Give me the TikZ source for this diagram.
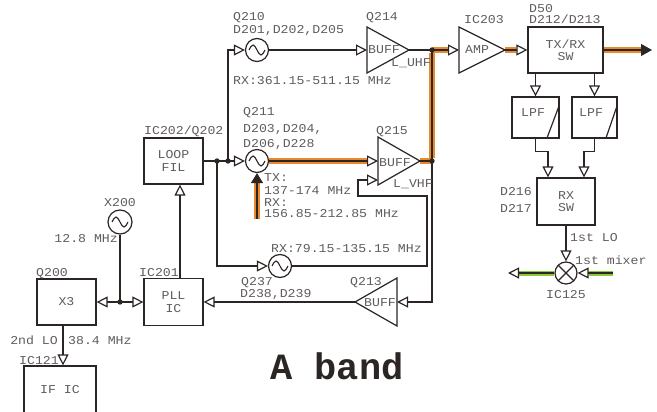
\documentclass[tikz,border=0pt]{standalone}
\usepackage{fontspec}
\newfontfamily\monof[FakeStretch=1.1]{Liberation Mono}
\newfontfamily\monob{Liberation Mono}
\usetikzlibrary{arrows.meta}
\definecolor{ln}{HTML}{2B2523}
\definecolor{tx}{HTML}{605C5D}
\definecolor{org}{HTML}{E8892B}
\definecolor{grn}{HTML}{8CC63F}
\newcommand\mymono{\monof\fontsize{12}{12.5}\selectfont}
\newcommand\bandfont{\monob\bfseries\fontsize{37}{40}\selectfont}
\newcommand\sinew[1]{\draw[ln,line width=1.1pt] ([xshift=-8pt]#1.center) sin ++(4,-5) cos ++(4,5) sin ++(4,5) cos ++(4,-5);}
\begin{document}
\begin{tikzpicture}[x=1pt,y=-1pt,
  wire/.style={draw=ln,line width=1.2pt},
  oa/.style={-{Triangle[open,length=11pt,width=11pt]}},
  fa/.style={-{Triangle[length=11pt,width=12pt]}},
  box/.style={draw=ln,line width=1.2pt,rectangle,inner sep=0,font=\mymono,text=tx,align=center},
  osc/.style={draw=ln,line width=1.2pt,circle,minimum size=23pt,inner sep=0},
  lbl/.style={anchor=base west,inner sep=0,text=tx,font=\mymono},
  lblr/.style={anchor=base east,inner sep=0,text=tx,font=\mymono},
  lblc/.style={anchor=base,inner sep=0,text=tx,font=\mymono},
  orangeband/.style={draw=org,line width=5.5pt},
  greenband/.style={draw=grn,line width=5pt}]
\useasboundingbox (0,0) rectangle (657,412);

% ---------- boxes ----------
\node[box,minimum width=59pt,minimum height=46pt] (loop) at (173.5,161) {LOOP\\FIL};
\node[box,minimum width=59pt,minimum height=47pt] (pll) at (173.5,302) {PLL\\IC};
\node[box,minimum width=59pt,minimum height=46pt] (x3) at (66.5,302) {X3};
\node[box,minimum width=72pt,minimum height=48pt] (ific) at (60,390) {IF IC};
\node[box,minimum width=75pt,minimum height=46pt] (txrx) at (565.5,50) {TX/RX\\SW};
\node[box,minimum width=47pt,minimum height=41pt] (lpf1) at (535.5,117.5) {};
\node[box,minimum width=45pt,minimum height=41pt] (lpf2) at (594.5,117.5) {};
\node[box,minimum width=58pt,minimum height=47pt] (rxsw) at (566,201.5) {RX\\SW};
\draw[wire] (559,106) -- (547,138);
\draw[wire] (617,106) -- (606,138);
\node[lbl] (tlpf1) at (521,117) {LPF};
\node[lbl] (tlpf2) at (579,117) {LPF};

% ---------- oscillators ----------
\node[osc] (q210) at (257,50) {};
\node[osc] (q211) at (257,161) {};
\node[osc] (q237) at (280,266) {};
\node[osc,minimum size=24pt] (x200) at (120,222) {};
\sinew{q210}\sinew{q211}\sinew{q237}\sinew{x200}

% mixer
\node[draw=ln,line width=1.2pt,circle,minimum size=22pt,inner sep=0] (mix) at (566,273) {};
\draw[wire] ([shift={(-7.8,-7.8)}]mix.center) -- ([shift={(7.8,7.8)}]mix.center);
\draw[wire] ([shift={(-7.8,7.8)}]mix.center) -- ([shift={(7.8,-7.8)}]mix.center);

% ---------- buffers / amp ----------
\draw[wire] (367,27) -- (409,50) -- (367,73) -- cycle;
\coordinate (b214in) at (367,50); \coordinate (b214out) at (409,50);
\draw[wire] (459,27) -- (505,50) -- (459,73) -- cycle;
\coordinate (ampin) at (459,50); \coordinate (ampout) at (505,50);
\draw[wire] (378,137) -- (420,161) -- (378,185) -- cycle;
\coordinate (b215ina) at (378,161); \coordinate (b215inb) at (378,180); \coordinate (b215out) at (420,161);
\draw[wire] (397,278) -- (355,302) -- (397,326) -- cycle;
\coordinate (b213in) at (397,302); \coordinate (b213out) at (355,302);

% ---------- junctions ----------
\coordinate (j1) at (432,50);
\coordinate (j2) at (432,161);
\coordinate (dA) at (217,161);
\coordinate (dB) at (228,161);
\coordinate (dC) at (120,302);
\coordinate (outend) at (652,50);
\coordinate (tunebot) at (257,219);
\coordinate (gR) at (613,273);
\coordinate (gL) at (508,273);

% ---------- orange / green bands ----------
\draw[orangeband,shorten >=11pt] (j1) -- (ampin);
\draw[orangeband] ([yshift=-2.75pt]j1) -- ([yshift=2.75pt]j2);
\draw[orangeband,shorten >=11pt] (ampout) -- (txrx.west);
\draw[orangeband,shorten >=11pt] (txrx.east) -- (outend);
\draw[orangeband,shorten >=11pt] (q211.east) -- (b215ina);
\draw[orangeband] (b215out) -- (j2);
\draw[orangeband,shorten >=10pt] (tunebot) -- (q211.south);
\draw[greenband,shorten >=11pt] (gR) -- (mix.east);
\draw[greenband,shorten >=11pt] (mix.west) -- (gL);

% ---------- wires ----------
\draw[wire,oa] (dB) |- (q210.west);
\draw[wire,oa] (q210.east) -- (b214in);
\draw[wire] (b214out) -- (j1);
\draw[wire,oa] (j1) -- (ampin);
\draw[wire] (j1) -- (j2);
\draw[wire,oa] (ampout) -- (txrx.west);
\draw[wire,fa] (txrx.east) -- (outend);
\draw[wire,oa] (q211.east) -- (b215ina);
\draw[wire] (b215out) -- (j2);
\draw[wire,-{Triangle[length=10pt,width=12pt]}] (tunebot) -- (q211.south);
\draw[wire,oa] (j2) |- (b213in);
\draw[wire,oa] (b213out) -- (pll.east);
\draw[wire,oa] ([xshift=6.5pt]pll.north) -- ([xshift=6.5pt]loop.south);
\draw[wire] (loop.east) -- (dA) -- (dB);
\draw[wire,oa] (dB) -- (q211.west);
\draw[wire,oa] (dA) |- (q237.west);
\draw[wire,oa] (q237.east) -- (427,266) -- (427,196) -- (358,196) -- (358,180) -- (b215inb);
\draw[wire] (x200.south) -- (dC);
\draw[wire,oa] (dC) -- (x3.east);
\draw[wire,oa] (dC) -- (pll.west);
\draw[wire,oa] ([xshift=-3.5pt]x3.south) -- ([xshift=3pt]ific.north);
\draw[wire,oa] (txrx.south -| lpf1.north) -- (lpf1.north);
\draw[wire,oa] (txrx.south -| lpf2.north) -- (lpf2.north);
\draw[wire,oa] (lpf1.south) -- ++(0,13) -| ([xshift=-18pt]rxsw.north);
\draw[wire,oa] (lpf2.south) -- ++(0,13) -| ([xshift=18pt]rxsw.north);
\draw[wire,oa] (rxsw.south) -- (mix.north);
\draw[wire,oa] (gR) -- (mix.east);
\draw[wire,oa] (mix.west) -- (gL);

\foreach \p in {j1,j2,dA,dB,dC} \fill[ln] (\p) circle (2.7pt);

% ---------- labels ----------
\node[lbl] (t1) at (233,21) {Q210};
\node[lbl] (t2) at (233,34) {D201,D202,D205};
\node[lbl] (t3) at (233,85) {RX:361.15-511.15 MHz};
\node[lbl] (t4) at (366,21) {Q214};
\node[lbl] (t5) at (368,54) {BUFF};
\node[lbl] (t6) at (391,67) {L\_UHF};
\node[lbl] (t7) at (464,24) {IC203};
\node[lbl] (t8) at (465,54) {AMP};
\node[lbl] (t9) at (529,12.5) {D50};
\node[lbl] (t10) at (529,24) {D212/D213};
\node[lblr] (t11) at (532,196) {D216};
\node[lblr] (t12) at (532,212) {D217};
\node[lbl] (t13) at (570,241) {1st LO};
\node[lbl] (t14) at (575,264) {1st mixer};
\node[lblc] (t15) at (566,298) {IC125};
\node[lbl] (t16) at (144,135) {IC202/Q202};
\node[lbl] (t17) at (104,207) {X200};
\node[lblr] (t18) at (118,242) {12.8 MHz};
\node[lbl] (t19) at (36,276) {Q200};
\node[lbl] (t20) at (139,276) {IC201};
\node[lblr] (t21) at (58,344) {2nd LO};
\node[lbl] (t22) at (68,344) {38.4 MHz};
\node[lbl] (t23) at (19,364) {IC121};
\node[lbl] (t24) at (243,116) {Q211};
\node[lbl] (t25) at (243,133) {D203,D204,};
\node[lbl] (t26) at (243,148) {D206,D228};
\node[lbl] (t27) at (376,135) {Q215};
\node[lbl] (t28) at (379,166) {BUFF};
\node[lbl] (t29) at (393,187) {L\_VHF};
\node[lbl] (t30) at (264,182) {TX:};
\node[lbl] (t31) at (264,194) {137-174 MHz};
\node[lbl] (t32) at (264,206) {RX:};
\node[lbl] (t33) at (264,217) {156.85-212.85 MHz};
\node[lbl] (t34) at (271,252) {RX:79.15-135.15 MHz};
\node[lbl] (t35) at (241,285) {Q237};
\node[lbl] (t36) at (240,297) {D238,D239};
\node[lbl] (t37) at (350,285) {Q213};
\node[lbl] (t38) at (364,306) {BUFF};
\node[anchor=base,inner sep=0,text=ln,font=\bandfont] (title) at (337,379) {A band};
\end{tikzpicture}
\end{document}
